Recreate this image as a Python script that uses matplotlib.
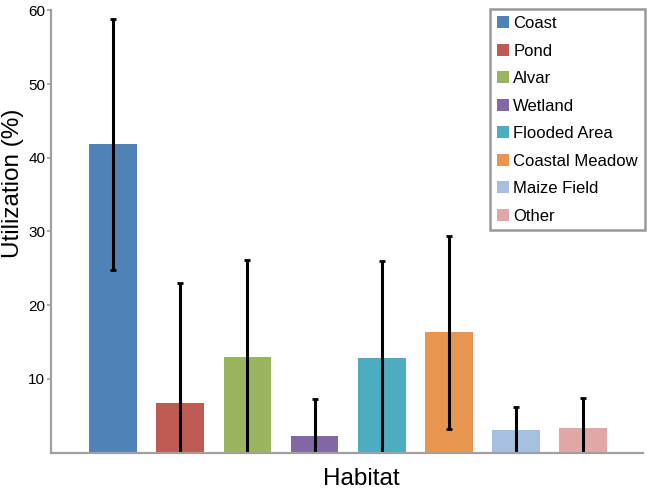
import matplotlib
matplotlib.use('Agg')
import matplotlib.pyplot as plt
import numpy as np

plt.rcParams['font.family'] = ['Liberation Sans', 'DejaVu Sans']

habitats = ['Coast', 'Pond', 'Alvar', 'Wetland', 'Flooded Area',
            'Coastal Meadow', 'Maize Field', 'Other']
utilization = [41.8, 6.8, 13.0, 2.2, 12.9, 16.3, 3.1, 3.4]
errors = [17.0, 16.2, 13.1, 5.1, 13.1, 13.1, 3.1, 4.0]
colors = ['#4f83b8', '#bf5b52', '#9bb55e', '#8468a5', '#4cacc0',
          '#e8964f', '#a7bfe0', '#e2a8a8']
yticks = [10, 20, 30, 40, 50, 60]

fig = plt.figure(figsize=(6.5, 4.92), dpi=100)
ax = fig.add_axes([0.078, 0.08, 0.911, 0.899])

x = np.arange(len(habitats))
for i in range(len(habitats)):
    ax.bar(x[i], utilization[i], width=0.71, color=colors[i],
           label=habitats[i], zorder=2)
ax.errorbar(x, utilization, yerr=errors, fmt='none', ecolor='black',
            elinewidth=2.2, capsize=2.5, capthick=2, zorder=3)

ax.set_xlim(-0.93, 7.89)
ax.set_ylim(0, 60)
ax.set_yticks(yticks)
ax.set_xticks([])

for s in ['top', 'right']:
    ax.spines[s].set_visible(False)
for s in ['left', 'bottom']:
    ax.spines[s].set_color('#a0a0a0')
    ax.spines[s].set_linewidth(1.6)
    ax.spines[s].set_zorder(4)

ax.tick_params(axis='y', direction='out', length=3, width=1.2,
               color='#a0a0a0', labelsize=11, pad=1)

ax.set_ylabel('Utilization (%)', fontsize=17.5)
ax.yaxis.set_label_coords(-0.045, 0.61)
ax.set_xlabel('Habitat', fontsize=17.5)
ax.xaxis.set_label_coords(0.524, -0.035)

leg = ax.legend(loc='upper right', bbox_to_anchor=(1.003, 1.002),
                fontsize=12, frameon=True, fancybox=False,
                handlelength=0.75, handleheight=0.75, handletextpad=0.25,
                labelspacing=0.75, borderpad=0.4, borderaxespad=0.0)
leg.get_frame().set_edgecolor('#808080')
leg.get_frame().set_linewidth(1.8)

fig.savefig('out.png', dpi=100)
